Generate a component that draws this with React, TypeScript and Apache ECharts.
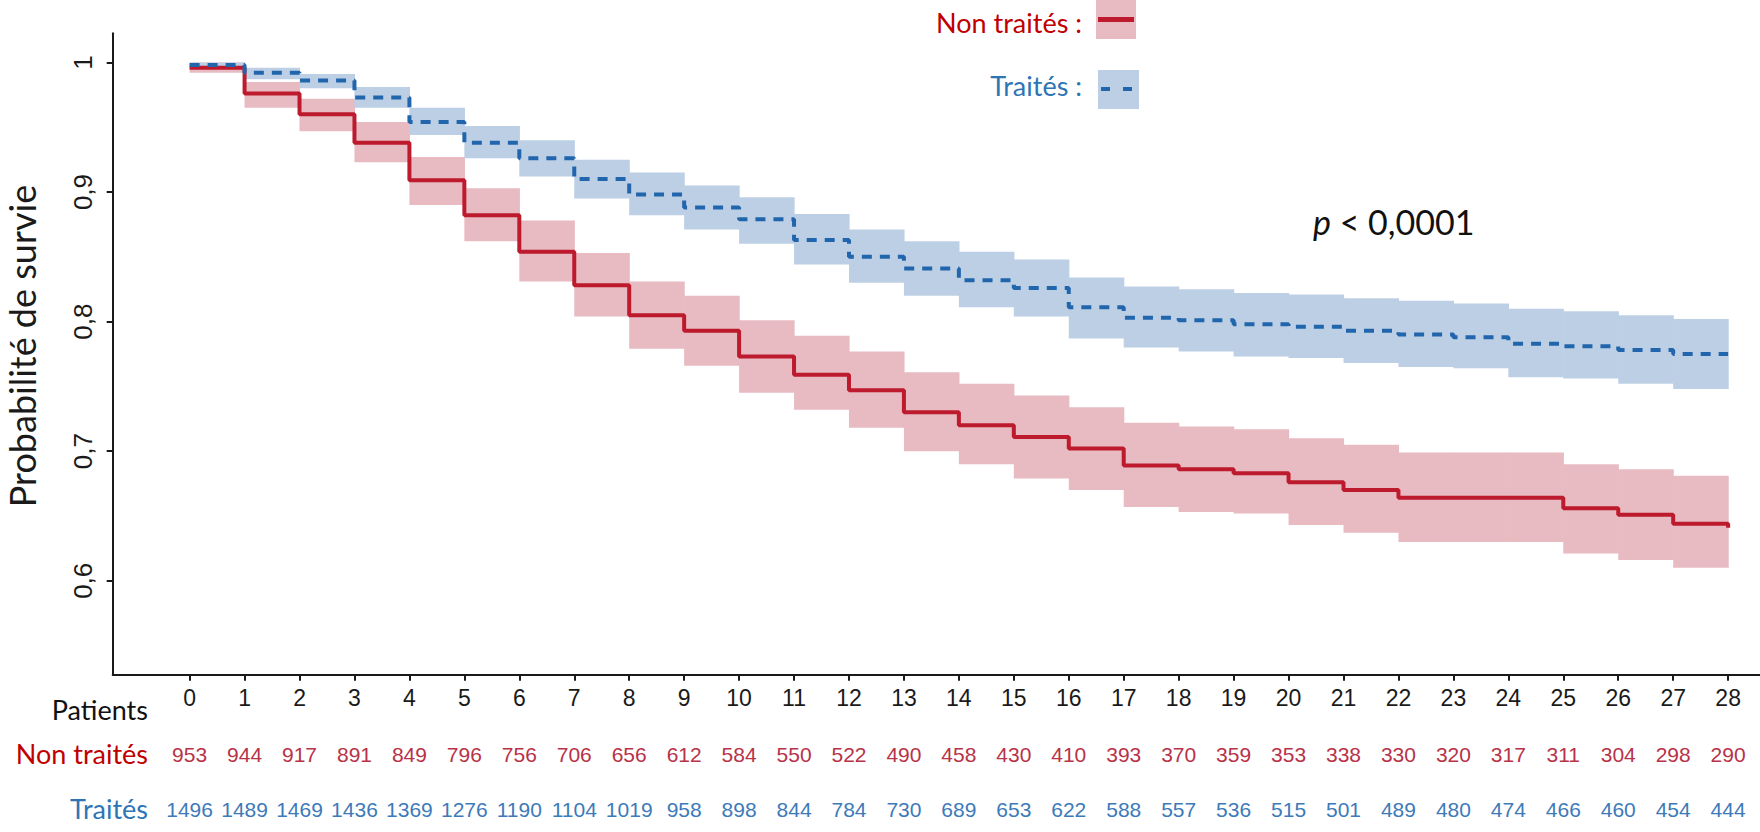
import React, { useEffect, useRef } from "react";
import * as echarts from "echarts";

// ---- data ----
const months = [0, 1, 2, 3, 4, 5, 6, 7, 8, 9, 10, 11, 12, 13, 14, 15, 16, 17, 18, 19, 20, 21, 22, 23, 24, 25, 26, 27];
const tickValues = [0, 1, 2, 3, 4, 5, 6, 7, 8, 9, 10, 11, 12, 13, 14, 15, 16, 17, 18, 19, 20, 21, 22, 23, 24, 25, 26, 27, 28];
const yTicks = [0.6, 0.7, 0.8, 0.9, 1];

// survival value on [t, t+1) ; last entry = value at t = 28
const untreatedSurv = [0.996, 0.976, 0.96, 0.938, 0.909, 0.882, 0.854, 0.828, 0.805, 0.793, 0.773, 0.759, 0.747, 0.73, 0.72, 0.711, 0.702, 0.689, 0.686, 0.683, 0.676, 0.67, 0.664, 0.664, 0.664, 0.656, 0.651, 0.644, 0.641];
const untreatedLower = [0.992, 0.965, 0.947, 0.923, 0.89, 0.862, 0.831, 0.804, 0.779, 0.766, 0.745, 0.732, 0.718, 0.7, 0.69, 0.679, 0.67, 0.657, 0.653, 0.652, 0.643, 0.637, 0.63, 0.63, 0.63, 0.621, 0.616, 0.61];
const untreatedUpper = [1.0, 0.985, 0.972, 0.954, 0.927, 0.903, 0.878, 0.853, 0.831, 0.82, 0.801, 0.789, 0.777, 0.761, 0.752, 0.743, 0.734, 0.722, 0.719, 0.717, 0.71, 0.705, 0.699, 0.699, 0.699, 0.69, 0.686, 0.681];

const treatedSurv = [0.998, 0.992, 0.986, 0.973, 0.954, 0.938, 0.926, 0.91, 0.898, 0.888, 0.879, 0.863, 0.85, 0.841, 0.832, 0.826, 0.811, 0.803, 0.801, 0.798, 0.796, 0.793, 0.79, 0.788, 0.783, 0.781, 0.778, 0.775, 0.775];
const treatedLower = [0.995, 0.987, 0.98, 0.965, 0.944, 0.926, 0.912, 0.895, 0.882, 0.871, 0.86, 0.844, 0.83, 0.82, 0.811, 0.804, 0.787, 0.78, 0.777, 0.773, 0.772, 0.768, 0.765, 0.764, 0.757, 0.756, 0.752, 0.748];
const treatedUpper = [1.0, 0.996, 0.991, 0.981, 0.965, 0.951, 0.94, 0.925, 0.915, 0.905, 0.896, 0.883, 0.871, 0.862, 0.854, 0.848, 0.834, 0.827, 0.825, 0.822, 0.821, 0.818, 0.816, 0.814, 0.81, 0.808, 0.805, 0.802];

const untreatedAtRisk = [953, 944, 917, 891, 849, 796, 756, 706, 656, 612, 584, 550, 522, 490, 458, 430, 410, 393, 370, 359, 353, 338, 330, 320, 317, 311, 304, 298, 290];
const treatedAtRisk = [1496, 1489, 1469, 1436, 1369, 1276, 1190, 1104, 1019, 958, 898, 844, 784, 730, 689, 653, 622, 588, 557, 536, 515, 501, 489, 480, 474, 466, 460, 454, 444];

const labelUntreated = "Non traités";
const labelTreated = "Traités";
const labelPatients = "Patients";
const yTitle = "Probabilité de survie";

// ---- styles ----
const RED = "#bd1a2e";
const RED_BAND = "#e8bac1";
const BLUE = "#2166ac";
const BLUE_BAND = "#bccfe5";
const AXIS = "#1a1a1a";
const SANS = "Lato, 'Noto Sans', sans-serif";
const ARIAL = "'Liberation Sans', Arial, sans-serif";

const X_MIN = -1.4;
const X_MAX = 28.58;
const Y_MIN = 0.5275;
const Y_MAX = 1.0225;

function bandRenderer(fill: string) {
  return (params: any, api: any) => {
    const x0 = api.value(0);
    const x1 = api.value(1);
    const lo = api.value(2);
    const hi = api.value(3);
    const p0 = api.coord([x0, hi]);
    const p1 = api.coord([x1, lo]);
    return {
      type: "rect",
      shape: { x: p0[0], y: p0[1], width: p1[0] - p0[0] + 0.6, height: p1[1] - p0[1] },
      style: { fill },
    };
  };
}

export default function App() {
  const ref = useRef<HTMLDivElement>(null);

  useEffect(() => {
    if (!ref.current) return;
    const chart = echarts.init(ref.current, null, { renderer: "svg" });

    const commonX = {
      type: "value",
      gridIndex: 0,
      min: X_MIN,
      max: X_MAX,
      position: "bottom",
      splitLine: { show: false },
    };

    const option: any = {
      animation: false,
      backgroundColor: "#ffffff",
      grid: { left: 112.7, right: 0, top: 33.3, bottom: 157.3, containLabel: false, outerBoundsMode: "none" },
      xAxis: [
        {
          ...commonX,
          axisLine: { show: true, onZero: false, lineStyle: { color: AXIS, width: 2 } },
          axisTick: { show: true, customValues: tickValues, length: 6, lineStyle: { color: AXIS, width: 2 } },
          axisLabel: {
            customValues: tickValues,
            color: "#1a1a1a",
            fontSize: 23,
            fontFamily: ARIAL,
            margin: 23,
            verticalAlign: "middle",
            formatter: (v: number) => String(Math.round(v)),
          },
        },
        {
          ...commonX,
          offset: 70,
          axisLine: { show: false },
          axisTick: { show: false },
          axisLabel: {
            customValues: tickValues,
            color: "#b83248",
            fontSize: 21,
            fontFamily: ARIAL,
            margin: 10,
            verticalAlign: "middle",
            formatter: (v: number) => String(untreatedAtRisk[Math.round(v)]),
          },
        },
        {
          ...commonX,
          offset: 125,
          axisLine: { show: false },
          axisTick: { show: false },
          axisLabel: {
            customValues: tickValues,
            color: "#3d7ab9",
            fontSize: 21,
            fontFamily: ARIAL,
            margin: 10,
            verticalAlign: "middle",
            formatter: (v: number) => String(treatedAtRisk[Math.round(v)]),
          },
        },
      ],
      yAxis: {
        type: "value",
        min: Y_MIN,
        max: Y_MAX,
        splitLine: { show: false },
        axisLine: { show: true, onZero: false, lineStyle: { color: AXIS, width: 2 } },
        axisTick: { show: true, customValues: yTicks, length: 6, lineStyle: { color: AXIS, width: 2 } },
        axisLabel: {
          customValues: yTicks,
          rotate: 90,
          align: "center",
          verticalAlign: "middle",
          margin: 30,
          color: "#1a1a1a",
          fontSize: 26,
          fontFamily: ARIAL,
          formatter: (v: number) => (Math.abs(v - 1) < 1e-9 ? "1" : v.toFixed(1).replace(".", ",")),
        },
      },
      series: [
        {
          type: "custom",
          name: labelUntreated + " IC",
          xAxisIndex: 0,
          yAxisIndex: 0,
          renderItem: bandRenderer(RED_BAND),
          data: months.map((t, i) => [t, t + 1, untreatedLower[i], untreatedUpper[i]]),
          silent: true,
          z: 1,
        },
        {
          type: "custom",
          name: labelTreated + " IC",
          xAxisIndex: 0,
          yAxisIndex: 0,
          renderItem: bandRenderer(BLUE_BAND),
          data: months.map((t, i) => [t, t + 1, treatedLower[i], treatedUpper[i]]),
          silent: true,
          z: 1,
        },
        {
          type: "line",
          name: labelUntreated,
          xAxisIndex: 0,
          yAxisIndex: 0,
          step: "end",
          symbol: "none",
          showSymbol: false,
          silent: true,
          data: tickValues.map((t, i) => [t, untreatedSurv[i]]),
          lineStyle: { color: RED, width: 4 },
          z: 3,
        },
        {
          type: "line",
          name: labelTreated,
          xAxisIndex: 0,
          yAxisIndex: 0,
          step: "end",
          symbol: "none",
          showSymbol: false,
          silent: true,
          data: tickValues.map((t, i) => [t, treatedSurv[i]]),
          lineStyle: { color: BLUE, width: 4, type: [10, 8] },
          z: 4,
        },
      ],
      graphic: [
        // y axis title
        {
          type: "text",
          x: 22,
          y: 346,
          rotation: Math.PI / 2,
          style: {
            text: yTitle,
            fill: "#1a1a1a",
            fontSize: 36,
            fontFamily: SANS,
            textAlign: "center",
            textVerticalAlign: "middle",
          },
        },
        // risk table headers
        {
          type: "text",
          x: 148,
          y: 709,
          style: { text: labelPatients, fill: "#111", fontSize: 27, fontFamily: SANS, textAlign: "right", textVerticalAlign: "middle" },
        },
        {
          type: "text",
          x: 148,
          y: 753,
          style: { text: labelUntreated, fill: "#c00000", fontSize: 27, fontFamily: SANS, textAlign: "right", textVerticalAlign: "middle" },
        },
        {
          type: "text",
          x: 148,
          y: 808,
          style: { text: labelTreated, fill: "#2e75b6", fontSize: 27, fontFamily: SANS, textAlign: "right", textVerticalAlign: "middle" },
        },
        // legend
        {
          type: "text",
          x: 1082,
          y: 22,
          style: { text: labelUntreated + " :", fill: "#c00000", fontSize: 27, fontFamily: SANS, textAlign: "right", textVerticalAlign: "middle" },
        },
        { type: "rect", shape: { x: 1096, y: 0, width: 40, height: 39 }, style: { fill: RED_BAND } },
        { type: "line", shape: { x1: 1098, y1: 19.5, x2: 1134, y2: 19.5 }, style: { stroke: RED, lineWidth: 5 } },
        {
          type: "text",
          x: 1082,
          y: 85,
          style: { text: labelTreated + " :", fill: "#2e75b6", fontSize: 27, fontFamily: SANS, textAlign: "right", textVerticalAlign: "middle" },
        },
        { type: "rect", shape: { x: 1098, y: 70, width: 41, height: 39 }, style: { fill: BLUE_BAND } },
        { type: "line", shape: { x1: 1101, y1: 89, x2: 1110, y2: 89 }, style: { stroke: BLUE, lineWidth: 4 } },
        { type: "line", shape: { x1: 1123, y1: 89, x2: 1132, y2: 89 }, style: { stroke: BLUE, lineWidth: 4 } },
        // p-value
        {
          type: "text",
          x: 1313,
          y: 221,
          style: {
            text: "{i|p} < 0,0001",
            fill: "#111",
            fontSize: 34,
            fontFamily: SANS,
            textAlign: "left",
            textVerticalAlign: "middle",
            rich: {
              i: { fontStyle: "italic", fontSize: 34, fontFamily: SANS, fill: "#111" },
            },
          },
        },
      ],
    };

    chart.setOption(option);
    return () => {
      chart.dispose();
    };
  }, []);

  return (
    <div
      ref={ref}
      style={{ position: "absolute", left: 0, top: 0, width: "1760px", height: "832px", background: "#fff" }}
    />
  );
}
